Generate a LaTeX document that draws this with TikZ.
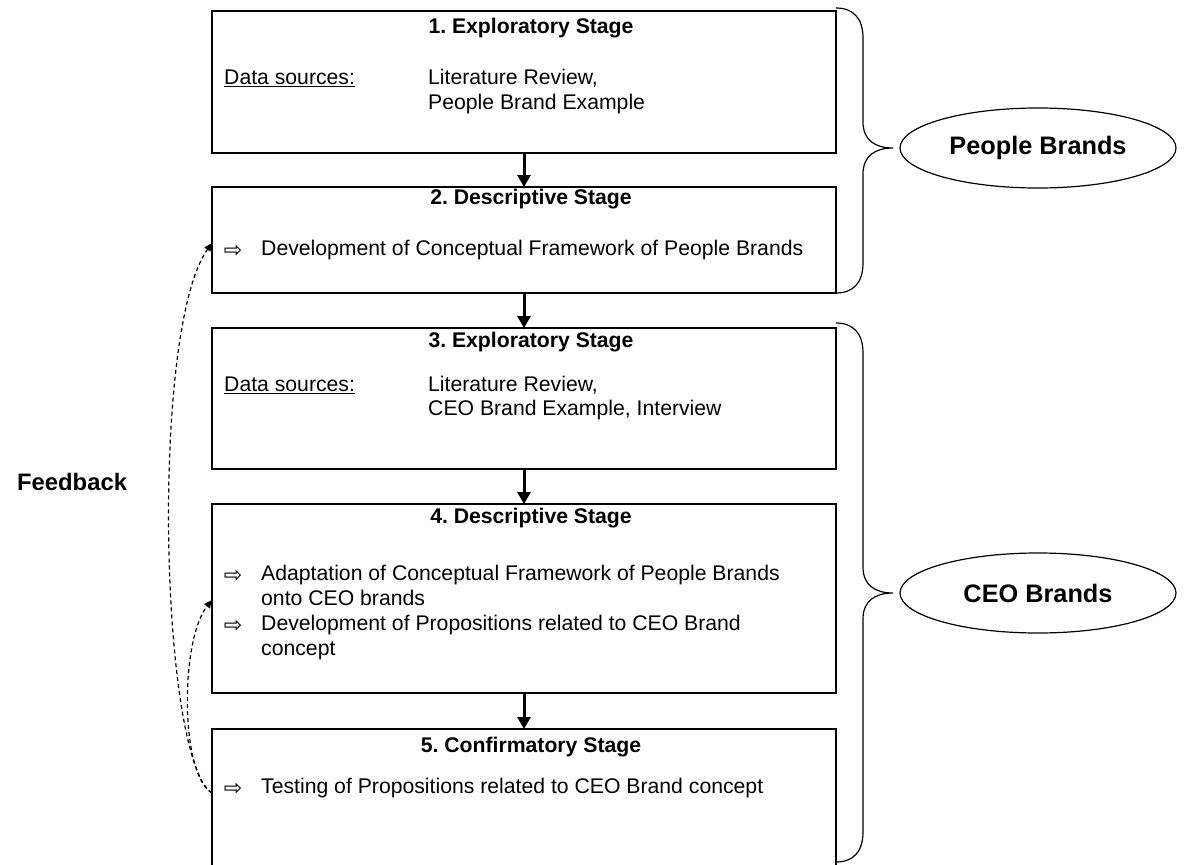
\documentclass[tikz,border=0pt]{standalone}
\usepackage{fontspec}
\setmainfont{Liberation Sans}
\newfontfamily\arrowfont{DejaVu Sans}
\usetikzlibrary{arrows.meta,shapes.geometric}
\frenchspacing

\tikzset{
  stagebox/.style={draw, line width=1.3pt, minimum width=624pt, inner sep=0pt, outer sep=0pt},
  stagetitle/.style={font=\fontsize{21.2}{25}\selectfont\bfseries, anchor=mid, inner sep=0pt},
  body/.style={font=\fontsize{21.2}{25}\selectfont, anchor=mid west, inner sep=0pt},
  bullet/.style={font=\arrowfont\fontsize{22}{26}\selectfont, anchor=center, inner sep=0pt},
  flow/.style={line width=3pt, -{Triangle[length=12pt,width=13pt]}},
  feedback/.style={line width=1.2pt, dash pattern=on 4pt off 3pt, -{Triangle[length=8pt,width=7pt]}},
  brace/.style={line width=1.2pt},
  group/.style={ellipse, draw, line width=1.2pt, minimum width=276pt, minimum height=80pt,
    inner sep=0pt, font=\fontsize{25.3}{30}\selectfont\bfseries},
  sidelabel/.style={font=\fontsize{23.8}{28}\selectfont\bfseries, anchor=mid west, inner sep=0pt},
}

\begin{document}
\begin{tikzpicture}[x=1pt,y=-1pt]
\useasboundingbox (0,0) rectangle (1184,865);
\clip (0,0) rectangle (1184,865);

% stage boxes
\node[stagebox, minimum height=142pt] (b1) at (524,82) {};
\node[stagebox, minimum height=106pt] (b2) at (524,240) {};
\node[stagebox, minimum height=141pt] (b3) at (524,398.5) {};
\node[stagebox, minimum height=189pt] (b4) at (524,598.5) {};
\node[stagebox, minimum height=156pt] (b5) at (524,807) {};

% stage 1
\node[stagetitle] (t1) at (531,31) {1. Exploratory Stage};
\node[body] (d1) at (224,82) {\underline{Data sources:}};
\node[body] (s1a) at (428,82) {Literature Review,};
\node[body] (s1b) at (428,107) {People Brand Example};

% stage 2
\node[stagetitle] (t2) at (531,202) {2. Descriptive Stage};
\node[bullet] (a2) at (233,251) {⇨};
\node[body] (l2) at (261,253) {Development of Conceptual Framework of People Brands};

% stage 3
\node[stagetitle] (t3) at (531,345) {3. Exploratory Stage};
\node[body] (d3) at (224,389) {\underline{Data sources:}};
\node[body] (s3a) at (428,389) {Literature Review,};
\node[body] (s3b) at (428,413) {CEO Brand Example, Interview};

% stage 4
\node[stagetitle] (t4) at (531,521) {4. Descriptive Stage};
\node[bullet] (a4a) at (233,576) {⇨};
\node[body] (l4a) at (261,578) {Adaptation of Conceptual Framework of People Brands};
\node[body] (l4b) at (261,603) {onto CEO brands};
\node[bullet] (a4b) at (233,626) {⇨};
\node[body] (l4c) at (261,628) {Development of Propositions related to CEO Brand};
\node[body] (l4d) at (261,653) {concept};

% stage 5
\node[stagetitle] (t5) at (531,750) {5. Confirmatory Stage};
\node[bullet] (a5) at (233,789) {⇨};
\node[body] (l5) at (261,791) {Testing of Propositions related to CEO Brand concept};

% flow between stages
\draw[flow] (b1.south) -- (b2.north);
\draw[flow] (b2.south) -- (b3.north);
\draw[flow] (b3.south) -- (b4.north);
\draw[flow] (b4.south) -- (b5.north);

% group labels
\node[group] (pb) at (1038,148) {People Brands};
\node[group] (cb) at (1038,593) {CEO Brands};

% braces joining stages to their group
\draw[brace] (836,8) .. controls (853,8) and (863,18) .. (863,38) -- (863,122)
  .. controls (863,140) and (875,148) .. (893,148)
  .. controls (875,148) and (863,156) .. (863,174) -- (863,263)
  .. controls (863,283) and (853,293) .. (836,293);
\draw[brace] (836,323) .. controls (853,323) and (863,333) .. (863,353) -- (863,567)
  .. controls (863,585) and (875,593) .. (893,593)
  .. controls (875,593) and (863,601) .. (863,619) -- (863,832)
  .. controls (863,852) and (853,862) .. (836,862);

% feedback loops
\node[sidelabel] (fb) at (17,488) {Feedback};
\coordinate (fbstart) at (212,793);
\coordinate (fbto2) at (212,243);
\coordinate (fbto4) at (212,600);
\draw[feedback] (fbstart) .. controls (160,760) and (150,330) .. (fbto2);
\draw[feedback] (fbstart) .. controls (180,775) and (180,640) .. (fbto4);
\end{tikzpicture}
\end{document}
